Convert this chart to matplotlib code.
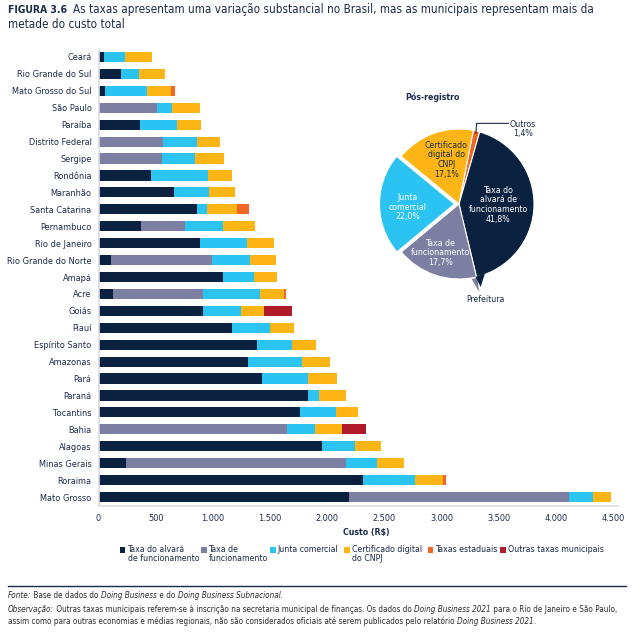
import os
import numpy as np
import matplotlib
matplotlib.use('Agg')
import matplotlib.pyplot as plt
from matplotlib import font_manager
from matplotlib.patches import Rectangle, Polygon

# %% data
states = ['Ceará', 'Rio Grande do Sul', 'Mato Grosso do Sul', 'São Paulo', 'Paraíba',
          'Distrito Federal', 'Sergipe', 'Rondônia', 'Maranhão', 'Santa Catarina',
          'Pernambuco', 'Rio de Janeiro', 'Rio Grande do Norte', 'Amapá', 'Acre', 'Goiás',
          'Piauí', 'Espírito Santo', 'Amazonas', 'Pará', 'Paraná', 'Tocantins', 'Bahia',
          'Alagoas', 'Minas Gerais', 'Roraima', 'Mato Grosso']
alvara = [47, 195, 55, 0, 361, 0, 0, 458, 659, 860, 370, 886, 108, 1088, 125, 913, 1166,
          1385, 1306, 1429, 1833, 1761, 0, 1955, 239, 2314, 2192]
funcionamento = [0, 0, 0, 510, 0, 563, 554, 0, 0, 0, 385, 0, 884, 0, 787, 0, 0,
                 0, 0, 0, 0, 0, 1648, 0, 1926, 0, 1925]
junta = [184, 157, 367, 131, 324, 297, 289, 499, 306, 87, 338, 411, 332, 271, 499, 332, 332,
         306, 472, 404, 96, 315, 246, 289, 272, 455, 210]
certificado = [236, 227, 210, 245, 210, 201, 254, 210, 227, 262, 274, 236, 227, 201, 210, 201, 210,
               210, 247, 254, 236, 194, 236, 228, 236, 245, 157]
estaduais = [0, 0, 35, 0, 0, 0, 0, 0, 0, 105, 0, 0, 0, 0, 17, 0, 0,
             0, 0, 0, 0, 0, 0, 0, 0, 26, 0]
outras = [0, 0, 0, 0, 0, 0, 0, 0, 0, 0, 0, 0, 0, 0, 0, 245, 0,
          0, 0, 0, 0, 0, 210, 0, 0, 0, 0]

series_names = ['Taxa do alvará\nde funcionamento', 'Taxa de\nfuncionamento', 'Junta comercial',
                'Certificado digital\ndo CNPJ', 'Taxas estaduais', 'Outras taxas municipais']
colors = ['#0b2140', '#7d7fa2', '#2bc3f2', '#fcb515', '#f26623', '#b11a28']

xticks = [0, 500, 1000, 1500, 2000, 2500, 3000, 3500, 4000, 4500]
xtick_labels = ['0', '500', '1.000', '1.500', '2.000', '2.500', '3.000', '3.500', '4.000', '4.500']

pie_values = [1.4, 41.8, 17.7, 22.0, 17.1]
pie_labels = ['Outros\n1,4%', 'Taxa do\nalvará de\nfuncionamento\n41,8%',
              'Taxa de\nfuncionamento\n17,7%', 'Junta\ncomercial\n22,0%',
              'Certificado\ndigital do\nCNPJ\n17,1%']
pie_colors = ['#f26623', '#0b2140', '#7d7fa2', '#2bc3f2', '#fcb515']

# %% fonts -- look for something narrow, the original uses a condensed face
fam, stretch, k = 'Liberation Sans', 'normal', 0.88
names = {f.name for f in font_manager.fontManager.ttflist}
if 'Liberation Sans Narrow' in names:
    fam, stretch, k = 'Liberation Sans Narrow', 'normal', 1.0
else:
    for f in font_manager.fontManager.ttflist:
        if f.name == 'DejaVu Sans' and 'Condensed' in os.path.basename(f.fname):
            fam, stretch, k = 'DejaVu Sans', 'condensed', 0.9
            break
plt.rcParams['font.family'] = [fam, 'DejaVu Sans']
plt.rcParams['font.stretch'] = stretch
txt = '#1c2a4a'
fs = 7 * k

W, H = 633, 635
fig = plt.figure(figsize=(W / 100, H / 100), dpi=100)
renderer = fig.canvas.get_renderer()


def fx(px):
    return px / W


def fy(py):
    return 1 - py / H


# %% bar chart
ax = fig.add_axes([fx(98.5), fy(505.5), fx(519), (505.5 - 48.5) / H])
y = np.arange(len(states))
left = np.zeros(len(states))
for vals, c in zip([alvara, funcionamento, junta, certificado, estaduais, outras], colors):
    vals = np.array(vals, dtype=float)
    ax.barh(y, vals, left=left, height=0.6, color=c, linewidth=0)
    left += vals

ax.set_xlim(0, 4540)
ax.set_ylim(len(states) - 0.5, -0.5)
ax.set_yticks(y)
ax.set_yticklabels(states, fontsize=fs * 1.05, color=txt)
ax.set_xticks(xticks)
ax.set_xticklabels(xtick_labels, fontsize=fs * 1.05, color=txt)
ax.tick_params(length=0, pad=5)
ax.tick_params(axis='x', pad=6)
for s in ['top', 'right']:
    ax.spines[s].set_visible(False)
for s in ['left', 'bottom']:
    ax.spines[s].set_color('#d9dbe6')
    ax.spines[s].set_linewidth(1.2)
fig.text(fx(366), fy(532), 'Custo (R$)', fontsize=fs, fontweight='bold', color=txt,
         ha='center', va='center')

# legend, drawn by hand so squares line up with first line of text
leg_x = [120, 201, 270, 344, 428, 500]
for name, c, lx in zip(series_names, colors, leg_x):
    fig.add_artist(Rectangle((fx(lx), fy(552.5)), fx(5.5), 5.5 / H, transform=fig.transFigure,
                             facecolor=c, edgecolor='none'))
    fig.text(fx(lx + 7.5), fy(545), name, fontsize=fs, color=txt, ha='left', va='top',
             linespacing=1.05)

# %% pie inset
fig.add_artist(Rectangle((fx(400.7), fy(320.7)), fx(580 - 400.7), (320.7 - 86) / H,
                         transform=fig.transFigure, facecolor='#e7e8ee', edgecolor='#1c2a48',
                         linewidth=1.2, zorder=0))
fig.text(fx(405), fy(97), 'Pós-registro', fontsize=fs, fontweight='bold', color=txt,
         ha='left', va='center')

pax = fig.add_axes([fx(459 - 90), fy(204 + 90), fx(180), 180 / H])
pax.pie(pie_values, colors=pie_colors, startangle=79, counterclock=False,
        explode=[0, 0, 0, 0.06, 0], wedgeprops=dict(edgecolor='white', linewidth=0.8))
pax.set_xlim(-1.2, 1.2)
pax.set_ylim(-1.2, 1.2)
pax.set_aspect('equal')
pax.axis('off')

label_pos = [(0.85, 1.0), (0.52, -0.01), (-0.25, -0.65), (-0.68, -0.04), (-0.17, 0.59)]
label_col = [txt, 'white', 'white', 'white', txt]
for lab, (lx, ly), c in zip(pie_labels, label_pos, label_col):
    pax.text(lx, ly, lab, fontsize=fs, color=c, ha='center', va='center', linespacing=1.1)
pax.plot([0.225, 0.235, 0.66], [0.94, 1.075, 1.075], color='#1c2a48', lw=0.8, clip_on=False)


# Prefeitura bracket
def to_data(px, py):
    return ((px - 459) / 75, (204 - py) / 75)


pax.add_patch(Polygon([to_data(471.7, 279), to_data(477.5, 278), to_data(479, 292)],
                      closed=True, facecolor='#7d7fa2', edgecolor='none', clip_on=False))
pax.add_patch(Polygon([to_data(475.5, 277), to_data(485, 273), to_data(480.7, 287)],
                      closed=True, facecolor='#0b2140', edgecolor='none', clip_on=False))
pax.text(*to_data(485, 300), 'Prefeitura', fontsize=fs, color=txt, ha='center', va='center')

# %% title
t = fig.text(fx(8), fy(10), 'FIGURA 3.6', fontsize=8.3 * k, fontweight='bold', color=txt,
             ha='left', va='center')
tx = max(71, 8 + t.get_window_extent(renderer=renderer).width + 6)
fig.text(fx(tx), fy(10), 'As taxas apresentam uma variação substancial no Brasil, mas as '
         'municipais representam mais da', fontsize=9.3 * k, color=txt, ha='left', va='center')
fig.text(fx(8), fy(25), 'metade do custo total', fontsize=9.3 * k, color=txt, ha='left', va='center')

# %% footer
fig.add_artist(plt.Line2D([fx(8), fx(626)], [fy(586), fy(586)], transform=fig.transFigure,
                          color='#1c2a48', lw=1))


def runs(x_px, y_px, parts, size=6.55 * k):
    # place text runs one after another, alternating styles
    x = fx(x_px)
    for s, style in parts:
        t = fig.text(x, fy(y_px), s, fontsize=size, style=style, color='#2b2b2b',
                     ha='left', va='center')
        bb = t.get_window_extent(renderer=renderer)
        x += bb.width / W


runs(8, 596, [('Fonte:', 'italic'), (' Base de dados do ', 'normal'),
              ('Doing Business', 'italic'), (' e do ', 'normal'),
              ('Doing Business Subnacional.', 'italic')])
runs(8, 609, [('Observação:', 'italic'),
              (' Outras taxas municipais referem-se à inscrição na secretaria municipal de '
               'finanças. Os dados do ', 'normal'),
              ('Doing Business 2021', 'italic'),
              (' para o Rio de Janeiro e São Paulo,', 'normal')])
runs(8, 621, [('assim como para outras economias e médias regionais, não são considerados '
               'oficiais até serem publicados pelo relatório ', 'normal'),
              ('Doing Business 2021', 'italic'), ('.', 'normal')])

fig.savefig('out.png', dpi=100)
